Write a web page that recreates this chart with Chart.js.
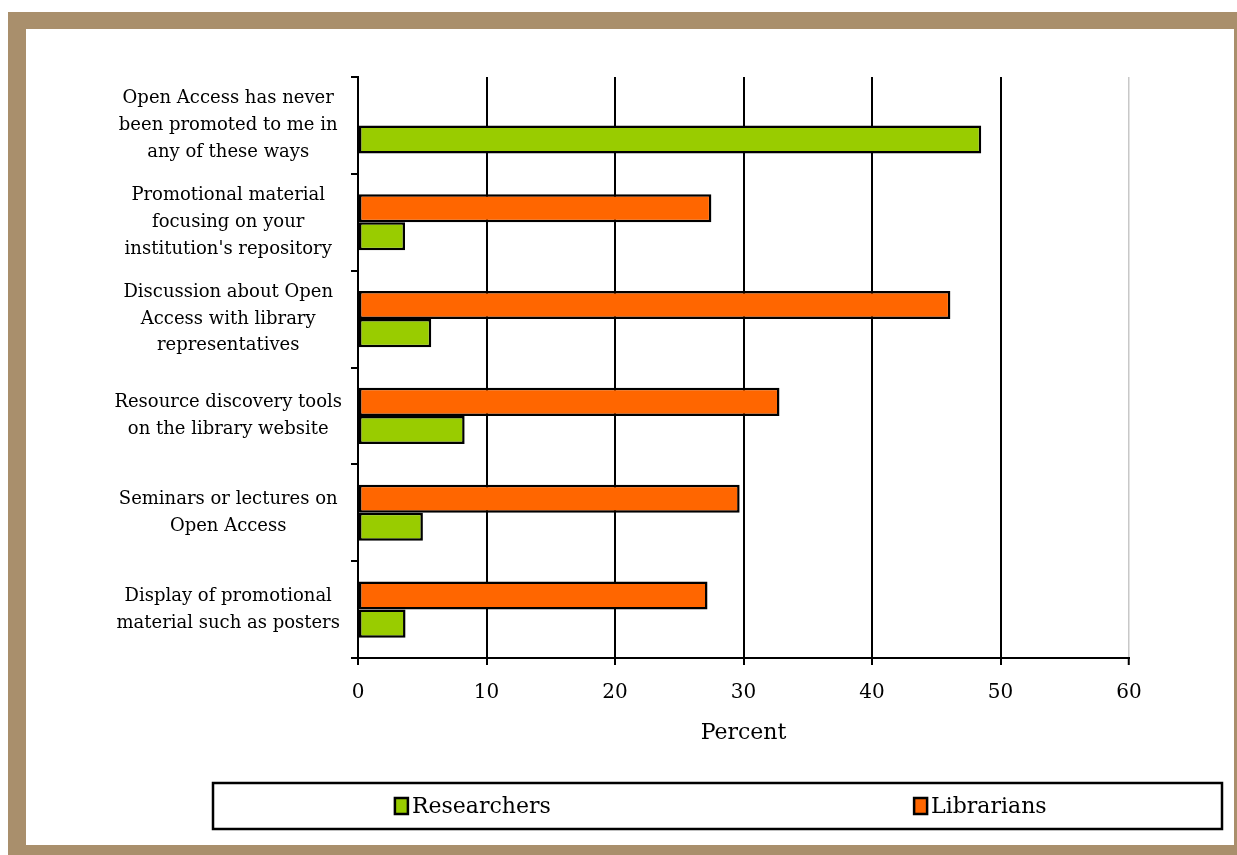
<!DOCTYPE html>
<html>
<head>
<meta charset="utf-8">
<script src="https://cdn.jsdelivr.net/npm/chart.js@4.4.0/dist/chart.umd.min.js"></script>
<style>
  html, body { margin: 0; padding: 0; background: #fff; }
  #frame {
    position: absolute; left: 8px; top: 12px; width: 1229px; height: 843px;
    background: #a98f6c;
  }
  #wrap {
    position: absolute; left: 26px; top: 29px; width: 1208px; height: 816px;
    background: #fff;
  }
</style>
</head>
<body>
<div id="frame"></div>
<div id="wrap"><canvas id="myChart"></canvas></div>
<script>
    const categories = [
        ['Open Access has never', 'been promoted to me in', 'any of these ways'],
        ['Promotional material', 'focusing on your', "institution's repository"],
        ['Discussion about Open', 'Access with library', 'representatives'],
        ['Resource discovery tools', 'on the library website'],
        ['Seminars or lectures on', 'Open Access'],
        ['Display of promotional', 'material such as posters'],
    ];
    const librarians = [null, 27.5, 46.1, 32.8, 29.7, 27.2];
    const researchers = [48.5, 3.66, 5.7, 8.3, 5.05, 3.7];
    const xTicks = { min: 0, max: 60, step: 10 };
    const xTitle = 'Percent';

    Chart.defaults.font.family = "'DejaVu Serif', serif";
    Chart.defaults.color = '#000';

    // boxed legend below the plot, items spread over two halves
    const boxLegend = {
        id: 'boxLegend',
        afterDraw(chart) {
            const ctx = chart.ctx;
            const bx = 187, by = 754, bw = 1009, bh = 46;
            ctx.save();
            ctx.fillStyle = '#fff';
            ctx.fillRect(bx, by, bw, bh);
            ctx.lineWidth = 2.5;
            ctx.strokeStyle = '#000';
            ctx.strokeRect(bx, by, bw, bh);
            const items = chart.data.datasets.slice().reverse();
            ctx.font = "22px 'DejaVu Serif', serif";
            ctx.textBaseline = 'middle';
            ctx.textAlign = 'left';
            items.forEach(function(ds, i) {
                const w = 14 + 4 + ctx.measureText(ds.label).width;
                const cx = bx + bw * (i === 0 ? 0.258 : 0.761);
                const x0 = cx - w / 2;
                const cy = by + bh / 2;
                ctx.fillStyle = ds.backgroundColor;
                ctx.fillRect(x0, cy - 8, 13, 16);
                ctx.lineWidth = 2.5;
                ctx.strokeRect(x0, cy - 8, 13, 16);
                ctx.fillStyle = '#000';
                ctx.fillText(ds.label, x0 + 17, cy + 1);
            });
            ctx.restore();
        }
    };

    const data = {
        labels: categories,
        datasets: [{
            label: 'Librarians',
            data: librarians,
            backgroundColor: '#ff6600',
            borderColor: '#000',
            borderWidth: 2.5,
            borderSkipped: false,
            categoryPercentage: 0.58,
            barPercentage: 1,
        }, {
            label: 'Researchers',
            data: researchers,
            backgroundColor: '#99cc00',
            borderColor: '#000',
            borderWidth: 2.5,
            borderSkipped: false,
            categoryPercentage: 0.58,
            barPercentage: 1,
        }]
    };

    const config = {
        type: 'bar',
        data: data,
        plugins: [boxLegend],
        options: {
            indexAxis: 'y',
            responsive: true,
            maintainAspectRatio: false,
            animation: false,
            layout: {
                padding: { top: 48, right: 105, bottom: 95, left: 0 }
            },
            plugins: {
                legend: { display: false },
                tooltip: { enabled: false },
            },
            scales: {
                x: {
                    min: xTicks.min,
                    max: xTicks.max,
                    afterFit: function(scale) { scale.height = 92; },
                    ticks: {
                        stepSize: xTicks.step,
                        padding: 16,
                        font: { size: 20 },
                        maxRotation: 0,
                    },
                    grid: {
                        color: function(c) { return c.tick && c.tick.value === 60 ? '#c8c8c8' : '#000'; },
                        lineWidth: function(c) { return c.tick && c.tick.value === 60 ? 1.5 : 2; },
                        tickColor: '#000',
                        tickWidth: 2,
                        tickLength: 7,
                    },
                    border: { color: '#000', width: 2 },
                    title: {
                        display: true,
                        text: xTitle,
                        font: { size: 22 },
                        padding: { top: 4, bottom: 4 },
                    },
                },
                y: {
                    afterFit: function(scale) { scale.width = 332; },
                    ticks: {
                        crossAlign: 'center',
                        padding: 9,
                        autoSkip: false,
                        font: { size: 18, lineHeight: 1.48 },
                    },
                    grid: {
                        drawOnChartArea: false,
                        color: '#000',
                        lineWidth: 2,
                        tickLength: 7,
                    },
                    border: { color: '#000', width: 2 },
                },
            },
        },
    };

    var myChart = new Chart(
        document.getElementById('myChart'),
        config
    );
</script>
</body>
</html>
